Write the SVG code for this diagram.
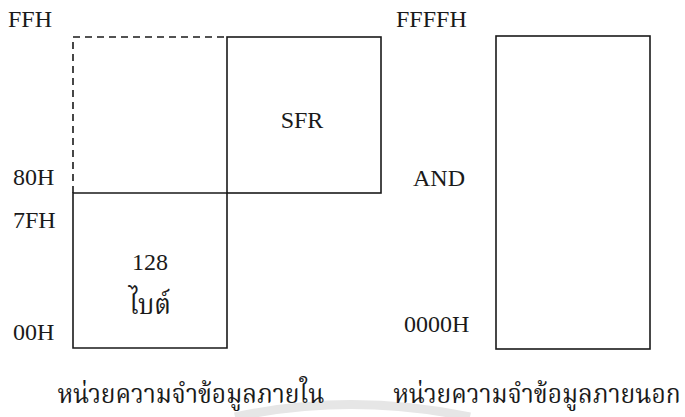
<svg xmlns="http://www.w3.org/2000/svg" width="685" height="417" viewBox="0 0 685 417">
<style>
.t{font-family:"Liberation Serif","Times New Roman",serif;font-size:24px;fill:#1a1a1a}
.th{font-family:"Liberation Serif","Noto Serif Thai","Noto Sans Thai","Noto Sans",serif;font-size:28px;fill:#1a1a1a}
.c{font-size:27px}
.b{fill:none;stroke:#1a1a1a;stroke-width:1.6}
.d{fill:none;stroke:#1a1a1a;stroke-width:1.6;stroke-dasharray:7,5}
</style>
<rect width="685" height="417" fill="#ffffff"/>
<path d="M235,417 Q350,392 470,417" fill="none" stroke="#e6e6e6" stroke-width="9"/>
<g id="internal-upper">
<path class="d" d="M73,193 V37 H227"/>
</g>
<g id="sfr">
<rect class="b" x="227" y="37" width="154" height="156"/>
<text class="t" x="302" y="128" text-anchor="middle">SFR</text>
</g>
<g id="internal-lower">
<path class="b" d="M73,193 H227 V348 H73 Z"/>
<text class="t" x="150" y="270" text-anchor="middle">128</text>
<text class="th" x="150" y="314" text-anchor="middle" textLength="42" lengthAdjust="spacingAndGlyphs">ไบต์</text>
</g>
<g id="external">
<rect class="b" x="496" y="36" width="154" height="313"/>
</g>
<g id="labels">
<text class="t" x="8" y="27">FFH</text>
<text class="t" x="13" y="185">80H</text>
<text class="t" x="13" y="228">7FH</text>
<text class="t" x="13" y="340">00H</text>
<text class="t" x="396" y="27">FFFFH</text>
<text class="t" x="413" y="186">AND</text>
<text class="t" x="404" y="332">0000H</text>
<text class="th c" transform="translate(191,403) scale(0.91,1)" text-anchor="middle">หน่วยความจำข้อมูลภายใน</text>
<text class="th c" transform="translate(537,403) scale(0.91,1)" text-anchor="middle">หน่วยความจำข้อมูลภายนอก</text>
</g>
<g id="connectors"></g>
</svg>
